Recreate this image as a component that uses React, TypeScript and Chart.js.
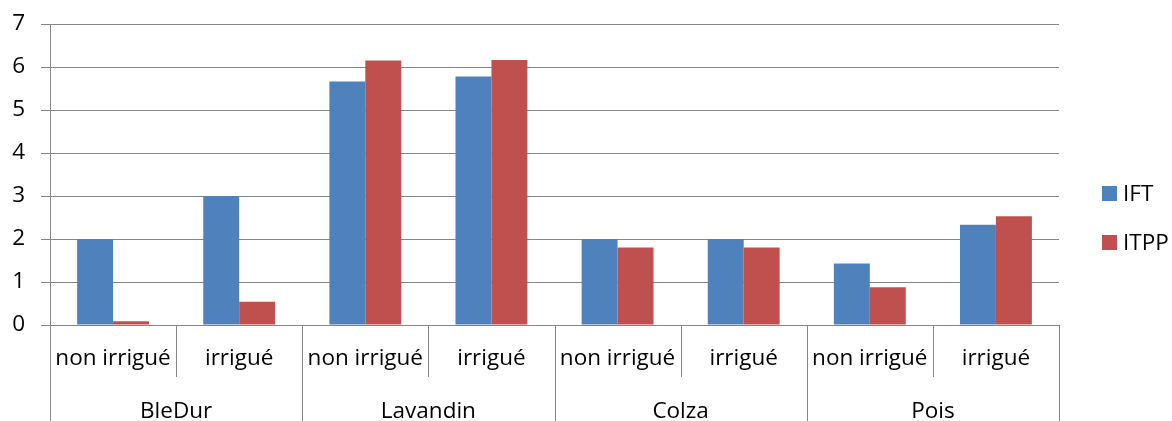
import React, { useEffect, useRef } from "react";
import { Chart, registerables } from "chart.js";

Chart.register(...registerables);

const groupLabels = ["BleDur", "Lavandin", "Colza", "Pois"];
const subLabels = [
  "non irrigué", "irrigué",
  "non irrigué", "irrigué",
  "non irrigué", "irrigué",
  "non irrigué", "irrigué",
];
const iftValues = [2.0, 3.0, 5.66, 5.78, 2.0, 2.0, 1.43, 2.33];
const itppValues = [0.09, 0.54, 6.15, 6.16, 1.8, 1.8, 0.88, 2.53];
const seriesNames = ["IFT", "ITPP"];
const seriesColors = ["#4F81BD", "#C0504D"];

const FONT = "'Open Sans', 'Liberation Sans', sans-serif";
const GRID = "#868686";

const axisPlugin = {
  id: "groupedAxis",
  afterDraw(chart: any) {
    const { ctx, chartArea } = chart;
    const xs = chart.scales.x;
    const n = subLabels.length;
    const catW = (chartArea.right - chartArea.left) / n;
    const H = chart.height;
    ctx.save();
    ctx.strokeStyle = GRID;
    ctx.lineWidth = 1;
    for (let i = 0; i <= n; i++) {
      const bx = Math.round(chartArea.left + i * catW) + 0.5;
      const endY = i % 2 === 0 ? H : chartArea.bottom + 52;
      ctx.beginPath();
      ctx.moveTo(bx, chartArea.bottom);
      ctx.lineTo(bx, endY);
      ctx.stroke();
    }
    ctx.fillStyle = "#000";
    ctx.font = `22.5px ${FONT}`;
    ctx.textAlign = "center";
    ctx.textBaseline = "middle";
    for (let i = 0; i < n; i++) {
      ctx.fillText(subLabels[i], xs.getPixelForValue(i), chartArea.bottom + 34);
    }
    for (let g = 0; g < groupLabels.length; g++) {
      const cx = chartArea.left + (2 * g + 1) * catW;
      ctx.fillText(groupLabels[g], cx, chartArea.bottom + 87);
    }
    const lx = 1102;
    const ly = [193.5, 242.5];
    ctx.textAlign = "left";
    for (let k = 0; k < seriesNames.length; k++) {
      ctx.fillStyle = seriesColors[k];
      ctx.fillRect(lx, ly[k] - 7.5, 15, 15);
      ctx.fillStyle = "#000";
      ctx.fillText(seriesNames[k], lx + 21, ly[k] + 1);
    }
    ctx.restore();
  },
};

export default function App() {
  const ref = useRef<HTMLCanvasElement | null>(null);
  useEffect(() => {
    if (!ref.current) return;
    const chart = new Chart(ref.current, {
      type: "bar",
      data: {
        labels: subLabels,
        datasets: [
          { label: seriesNames[0], data: iftValues, backgroundColor: seriesColors[0], borderWidth: 0 },
          { label: seriesNames[1], data: itppValues, backgroundColor: seriesColors[1], borderWidth: 0 },
        ],
      },
      options: {
        responsive: false,
        animation: false,
        devicePixelRatio: 1,
        categoryPercentage: 0.57,
        barPercentage: 1,
        layout: { padding: { top: 24, right: 113, left: 0, bottom: 0 } },
        plugins: {
          legend: { display: false },
          tooltip: { enabled: false },
          title: { display: false },
        },
        scales: {
          x: {
            offset: true,
            grid: { display: false, drawOnChartArea: false, drawTicks: false },
            border: { display: true, color: GRID, width: 1 },
            ticks: { display: false },
            afterFit: (s: any) => { s.height = 96; s.paddingLeft = 0; s.paddingRight = 0; },
          },
          y: {
            min: 0,
            max: 7,
            ticks: {
              stepSize: 1,
              padding: 16,
              color: "#000",
              font: { family: FONT, size: 22.5 },
            },
            grid: { color: GRID, lineWidth: 1, tickLength: 9 },
            border: { display: true, color: GRID, width: 1 },
            afterFit: (s: any) => { s.width = 50; s.paddingTop = 0; s.paddingBottom = 0; },
          },
        },
      },
      plugins: [axisPlugin],
    });
    return () => chart.destroy();
  }, []);
  return (
    <canvas
      ref={ref}
      width={1172}
      height={421}
      style={{ position: "absolute", left: 0, top: 0, width: 1172, height: 421, background: "#fff" }}
    />
  );
}
